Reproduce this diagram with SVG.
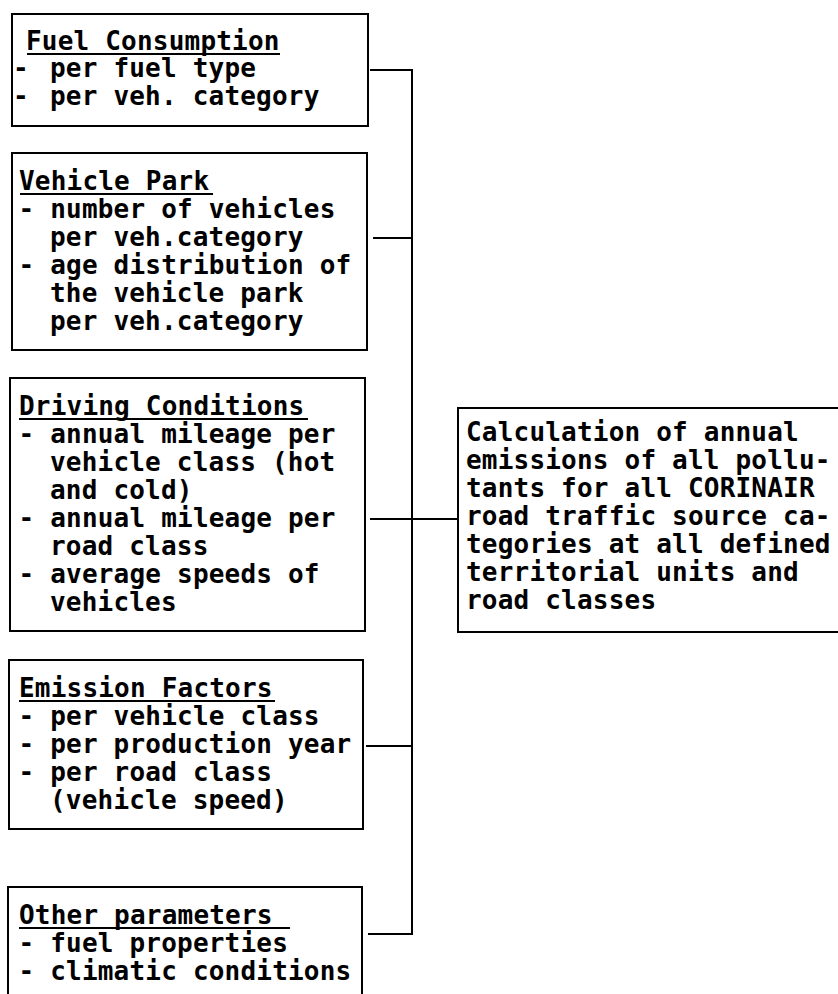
<svg xmlns="http://www.w3.org/2000/svg" width="838" height="994" viewBox="0 0 838 994">
<style>
  .box { fill: #fff; stroke: #000; stroke-width: 2; }
  .t { font-family: "DejaVu Sans Mono", "Liberation Mono", monospace; font-weight: bold; font-size: 26px; letter-spacing: 0.2px; fill: #000; }
  .ul { stroke: #000; stroke-width: 2; }
  .conn { stroke: #000; stroke-width: 2; fill: none; }
</style>
<rect width="838" height="994" fill="#fff"/>
<g id="connectors">
  <line class="conn" x1="370" y1="70" x2="413" y2="70"/>
  <line class="conn" x1="373" y1="238" x2="412" y2="238"/>
  <line class="conn" x1="370" y1="519" x2="458" y2="519"/>
  <line class="conn" x1="366" y1="746" x2="412" y2="746"/>
  <line class="conn" x1="368" y1="934" x2="411" y2="934"/>
  <line class="conn" x1="412" y1="69" x2="412" y2="935"/>
</g>
<g id="fuel-consumption">
  <rect class="box" x="12" y="14" width="356" height="112"/>
  <text class="t" x="26" y="50">Fuel Consumption</text>
  <line class="ul" x1="27" y1="54" x2="280" y2="54"/>
  <text class="t" y="77"><tspan x="13">-</tspan> <tspan x="50">per fuel type</tspan></text>
  <text class="t" y="105"><tspan x="13">-</tspan> <tspan x="50">per veh. category</tspan></text>
</g>
<g id="vehicle-park">
  <rect class="box" x="12" y="153" width="355" height="197"/>
  <text class="t" x="19" y="190">Vehicle Park</text>
  <line class="ul" x1="20" y1="194" x2="213" y2="194"/>
  <text class="t" x="18.5" y="218">- number of vehicles</text>
  <text class="t" x="50" y="246">per veh.category</text>
  <text class="t" x="18.5" y="274">- age distribution of</text>
  <text class="t" x="50" y="302">the vehicle park</text>
  <text class="t" x="50" y="330">per veh.category</text>
</g>
<g id="driving-conditions">
  <rect class="box" x="10" y="378" width="355" height="253"/>
  <text class="t" x="19" y="415">Driving Conditions</text>
  <line class="ul" x1="19" y1="419" x2="308" y2="419"/>
  <text class="t" x="18.5" y="443">- annual mileage per</text>
  <text class="t" x="50" y="471">vehicle class (hot</text>
  <text class="t" x="50" y="499">and cold)</text>
  <text class="t" x="18.5" y="527">- annual mileage per</text>
  <text class="t" x="50" y="555">road class</text>
  <text class="t" x="18.5" y="583">- average speeds of</text>
  <text class="t" x="50" y="611">vehicles</text>
</g>
<g id="emission-factors">
  <rect class="box" x="9" y="660" width="354" height="169"/>
  <text class="t" x="19" y="697">Emission Factors</text>
  <line class="ul" x1="19" y1="701" x2="275" y2="701"/>
  <text class="t" x="18.5" y="725">- per vehicle class</text>
  <text class="t" x="18.5" y="753">- per production year</text>
  <text class="t" x="18.5" y="781">- per road class</text>
  <text class="t" x="50" y="809">(vehicle speed)</text>
</g>
<g id="other-parameters">
  <rect class="box" x="8" y="887" width="354" height="130"/>
  <text class="t" x="19" y="924">Other parameters</text>
  <line class="ul" x1="19" y1="928" x2="290" y2="928"/>
  <text class="t" x="18.5" y="952">- fuel properties</text>
  <text class="t" x="18.5" y="980">- climatic conditions</text>
</g>
<g id="calculation">
  <rect class="box" x="458" y="408" width="400" height="224"/>
  <text class="t" x="466" y="441">Calculation of annual</text>
  <text class="t" x="466" y="469">emissions of all pollu-</text>
  <text class="t" x="466" y="497">tants for all CORINAIR</text>
  <text class="t" x="466" y="525">road traffic source ca-</text>
  <text class="t" x="466" y="553">tegories at all defined</text>
  <text class="t" x="466" y="581">territorial units and</text>
  <text class="t" x="466" y="609">road classes</text>
</g>
</svg>
